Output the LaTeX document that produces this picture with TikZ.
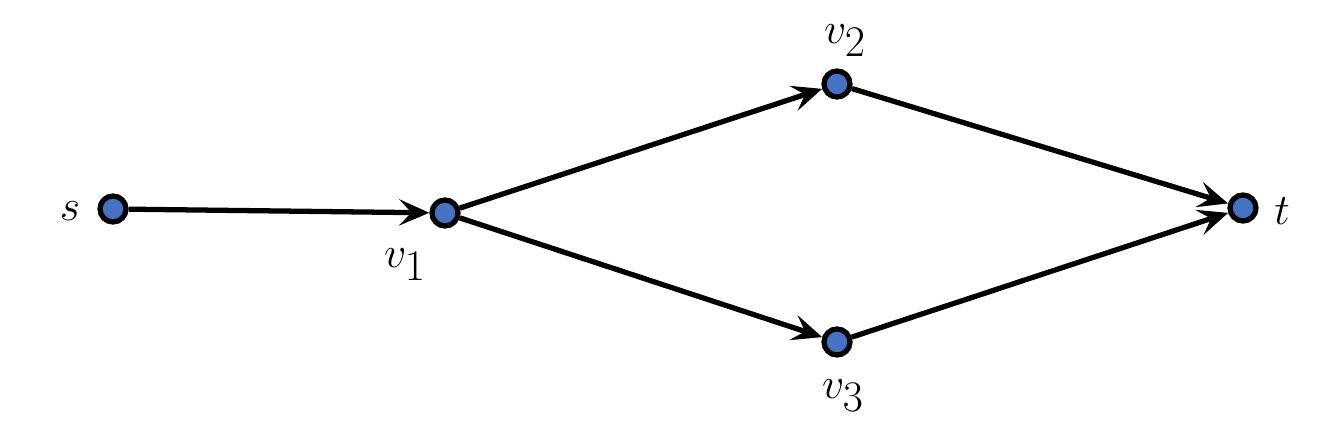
\documentclass[tikz,border=0pt]{standalone}
\usepackage{amsmath,amssymb}
\usepackage{xcolor}
\usepackage{tikz}
\usetikzlibrary{arrows.meta,positioning}
\definecolor{vertexblue}{RGB}{68,114,196}

\begin{document}
\begin{tikzpicture}[
    vertex/.style={circle, draw, fill=vertexblue, line width=3pt, minimum size=0.52cm, inner sep=0pt},
    vlabel/.style={font=\fontsize{38}{44}\selectfont},
    arrow/.style={-{Stealth[length=6mm, width=5.2mm, inset=2.4mm]}, line width=3pt}]

\useasboundingbox (0,0) rectangle (26.52,8.84);

\node[vertex] (s) at (2.26,4.66) {};
\node[vertex] (v1) at (8.90,4.58) {};
\node[vertex] (v2) at (16.74,7.16) {};
\node[vertex] (v3) at (16.74,2.00) {};
\node[vertex] (t) at (24.86,4.68) {};

\node[vlabel] (ls) at (1.40,4.62) {$s$};
\node[vlabel] (lv1) at (8.10,3.54) {$v_{\scriptstyle 1}$};
\node[vlabel] (lv2) at (16.90,8.02) {$v_{\scriptstyle 2}$};
\node[vlabel] (lv3) at (16.86,0.92) {$v_{\scriptstyle 3}$};
\node[vlabel] (lt) at (25.64,4.62) {$t$};

\draw[arrow] (s) -- (v1);
\draw[arrow] (v1) -- (v2);
\draw[arrow] (v1) -- (v3);
\draw[arrow] (v2) -- (t);
\draw[arrow] (v3) -- (t);
\end{tikzpicture}
\end{document}
